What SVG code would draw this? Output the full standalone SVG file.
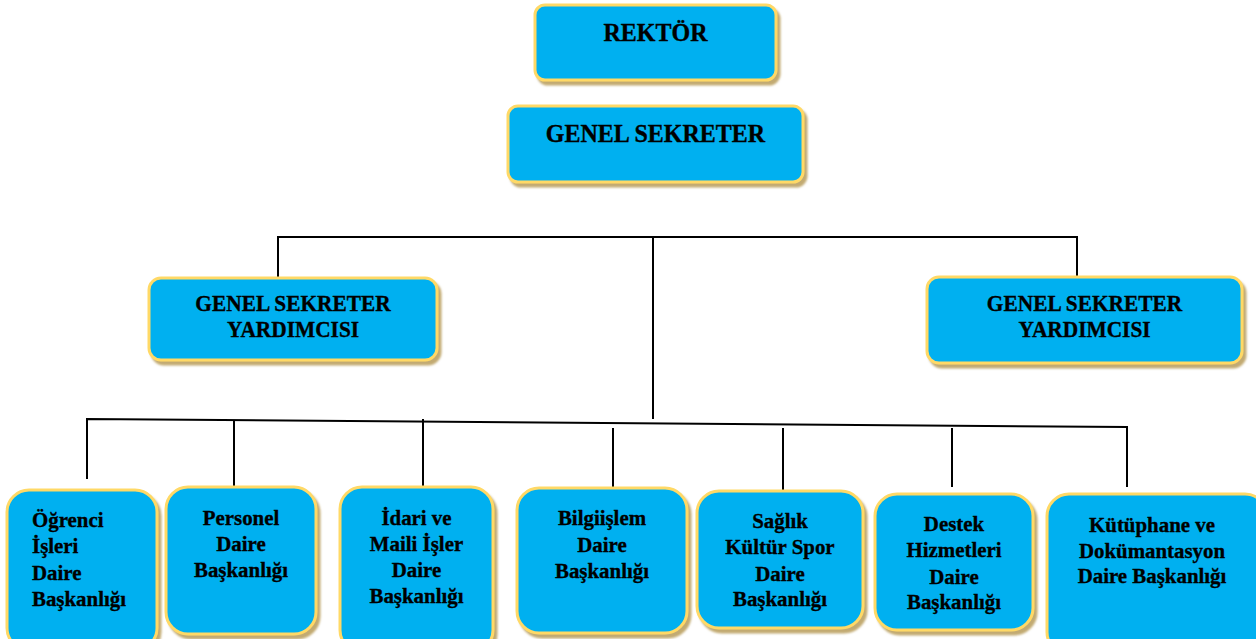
<svg xmlns="http://www.w3.org/2000/svg" width="1256" height="639" viewBox="0 0 1256 639">
<defs>
<filter id="sh" x="-10%" y="-10%" width="125%" height="125%">
<feOffset in="SourceAlpha" dx="3" dy="4" result="o"/>
<feGaussianBlur in="o" stdDeviation="0.8" result="b"/>
<feFlood flood-color="#BFA66A" flood-opacity="0.95"/>
<feComposite in2="b" operator="in" result="s"/>
<feMerge><feMergeNode in="s"/><feMergeNode in="SourceGraphic"/></feMerge>
</filter>
</defs>
<style>
.box{fill:#00B0F0;stroke:#FFD966;stroke-width:3;filter:url(#sh)}
.t{font-family:"Liberation Serif","Times New Roman",serif;font-weight:bold;fill:#000;stroke:#000;stroke-width:0.35;text-anchor:middle}
.t24{font-size:25px}
.t22{font-size:23px}
.t21{font-size:22px}
.ln{fill:none;stroke:#000;stroke-width:2}
</style>
<rect width="1256" height="639" fill="#fff"/>
<g id="connectors">
<path class="ln" d="M278,277 V237 H1077 V277"/>
<path class="ln" d="M653,237 V419"/>
<path class="ln" d="M87,479 V419 L1127,427 V487"/>
<path class="ln" d="M234,420 V487"/>
<path class="ln" d="M423,419 V487"/>
<path class="ln" d="M613,428 V488"/>
<path class="ln" d="M783,428 V492"/>
<path class="ln" d="M952,428 V487"/>
</g>
<g id="rektor">
<rect class="box" x="535" y="5" width="241" height="75" rx="10"/>
<g transform="translate(655.5,0) scale(0.96,1)"><text class="t t24" x="0" y="41">REKTÖR</text></g>
</g>
<g id="genel-sekreter">
<rect class="box" x="508" y="106" width="295" height="76" rx="10"/>
<g transform="translate(655.5,0) scale(0.96,1)"><text class="t t24" x="0" y="142">GENEL SEKRETER</text></g>
</g>
<g id="gsy-left">
<rect class="box" x="149" y="278" width="288" height="82" rx="12"/>
<g transform="translate(293,0) scale(0.93,1)">
<text class="t t22" x="0" y="311">GENEL SEKRETER</text>
<text class="t t22" x="0" y="337">YARDIMCISI</text>
</g>
</g>
<g id="gsy-right">
<rect class="box" x="927" y="277" width="315" height="86" rx="12"/>
<g transform="translate(1084.5,0) scale(0.93,1)">
<text class="t t22" x="0" y="311">GENEL SEKRETER</text>
<text class="t t22" x="0" y="337">YARDIMCISI</text>
</g>
</g>
<g id="ogrenci">
<rect class="box" x="7" y="490" width="150" height="160" rx="22"/>
<g transform="translate(32,0) scale(0.95,1)">
<text class="t t21" style="text-anchor:start" x="0" y="527">Öğrenci</text>
<text class="t t21" style="text-anchor:start" x="0" y="553">İşleri</text>
<text class="t t21" style="text-anchor:start" x="0" y="580">Daire</text>
<text class="t t21" style="text-anchor:start" x="0" y="606">Başkanlığı</text>
</g>
</g>
<g id="personel">
<rect class="box" x="166" y="487" width="150" height="147" rx="22"/>
<g transform="translate(241,0) scale(0.95,1)">
<text class="t t21" x="0" y="525">Personel</text>
<text class="t t21" x="0" y="551">Daire</text>
<text class="t t21" x="0" y="577">Başkanlığı</text>
</g>
</g>
<g id="idari">
<rect class="box" x="340" y="487" width="153" height="165" rx="22"/>
<g transform="translate(416.5,0) scale(0.95,1)">
<text class="t t21" x="0" y="525">İdari ve</text>
<text class="t t21" x="0" y="551">Maili İşler</text>
<text class="t t21" x="0" y="577">Daire</text>
<text class="t t21" x="0" y="603">Başkanlığı</text>
</g>
</g>
<g id="bilgiislem">
<rect class="box" x="517" y="488" width="170" height="145" rx="22"/>
<g transform="translate(602,0) scale(0.95,1)">
<text class="t t21" x="0" y="525">Bilgiişlem</text>
<text class="t t21" x="0" y="552">Daire</text>
<text class="t t21" x="0" y="578">Başkanlığı</text>
</g>
</g>
<g id="saglik">
<rect class="box" x="697" y="491" width="166" height="137" rx="22"/>
<g transform="translate(780,0) scale(0.95,1)">
<text class="t t21" x="0" y="528">Sağlık</text>
<text class="t t21" x="0" y="554">Kültür Spor</text>
<text class="t t21" x="0" y="581">Daire</text>
<text class="t t21" x="0" y="606">Başkanlığı</text>
</g>
</g>
<g id="destek">
<rect class="box" x="875" y="494" width="158" height="136" rx="22"/>
<g transform="translate(954,0) scale(0.95,1)">
<text class="t t21" x="0" y="531">Destek</text>
<text class="t t21" x="0" y="557">Hizmetleri</text>
<text class="t t21" x="0" y="584">Daire</text>
<text class="t t21" x="0" y="609">Başkanlığı</text>
</g>
</g>
<g id="kutuphane">
<rect class="box" x="1047" y="494" width="220" height="160" rx="22"/>
<g transform="translate(1152,0) scale(0.95,1)">
<text class="t t21" x="0" y="532">Kütüphane ve</text>
<text class="t t21" x="0" y="558">Dokümantasyon</text>
<text class="t t21" x="0" y="583">Daire Başkanlığı</text>
</g>
</g>
</svg>
